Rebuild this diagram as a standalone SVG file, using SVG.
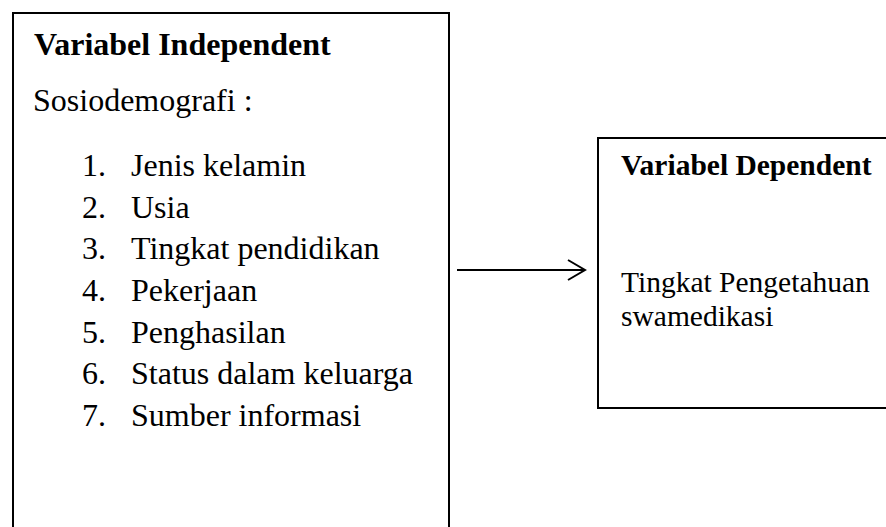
<svg xmlns="http://www.w3.org/2000/svg" width="886" height="527" viewBox="0 0 886 527">
<style>
.box{fill:#fff;stroke:#000;stroke-width:2}
.t{font-family:"Liberation Serif","Times New Roman",serif;fill:#000}
.l{font-size:32px}
.r{font-size:29.5px}
.b{font-weight:bold}
.conn{stroke:#000;stroke-width:2;fill:none}
</style>
<defs>
<marker id="arr" markerUnits="userSpaceOnUse" markerWidth="24" markerHeight="26" refX="20" refY="13" orient="auto">
<path d="M3,3 L20,13 L3,23" fill="none" stroke="#000" stroke-width="2"/>
</marker>
</defs>
<rect width="886" height="527" fill="#fff"/>
<g id="independent">
<rect class="box" x="13" y="13" width="436" height="530"/>
<text class="t l b" x="34" y="55">Variabel Independent</text>
<text class="t l" x="33" y="111">Sosiodemografi :</text>
<g class="t l">
<text x="82" y="176">1.</text><text x="131" y="176">Jenis kelamin</text>
<text x="82" y="218">2.</text><text x="131" y="218">Usia</text>
<text x="82" y="259">3.</text><text x="131" y="259">Tingkat pendidikan</text>
<text x="82" y="301">4.</text><text x="131" y="301">Pekerjaan</text>
<text x="82" y="343">5.</text><text x="131" y="343">Penghasilan</text>
<text x="82" y="384">6.</text><text x="131" y="384">Status dalam keluarga</text>
<text x="82" y="426">7.</text><text x="131" y="426">Sumber informasi</text>
</g>
</g>
<g id="dependent">
<rect class="box" x="598" y="138" width="300" height="270"/>
<text class="t r b" x="621" y="175">Variabel Dependent</text>
<text class="t r" x="621" y="292">Tingkat Pengetahuan</text>
<text class="t r" x="621" y="326">swamedikasi</text>
</g>
<g id="connectors">
<line class="conn" x1="457" y1="270" x2="585" y2="270" marker-end="url(#arr)"/>
</g>
</svg>
